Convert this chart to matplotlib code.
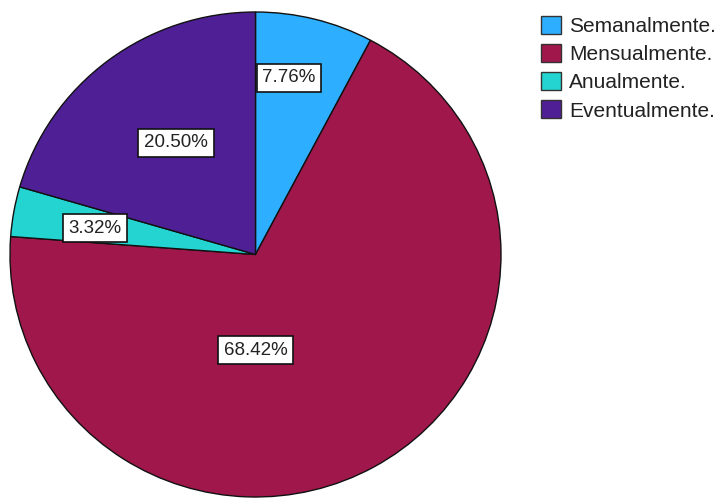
import matplotlib
matplotlib.use("Agg")
import matplotlib.pyplot as plt
from matplotlib.patches import Patch

plt.rcParams["font.family"] = ["Liberation Sans", "DejaVu Sans"]

# --- Daten ---
categories = ["Semanalmente.", "Mensualmente.", "Anualmente.", "Eventualmente."]
percents = [7.76, 68.42, 3.32, 20.50]
colors = ["#2eaeff", "#a0174b", "#24d4d0", "#4f1f96"]

# label positions inside the pie (relative to radius 1)
label_pos = [(0.136, 0.728), (0.0, -0.394), (-0.654, 0.109), (-0.324, 0.460)]

W, H = 724, 498
fig = plt.figure(figsize=(W / 100, H / 100), dpi=100)

# pie occupies x 10..501, y 12..497 (pixels, from top)
ax = fig.add_axes([10 / W, (H - 497) / H, 491 / W, 485 / H])
wedges, _ = ax.pie(
    percents,
    colors=colors,
    startangle=90,
    counterclock=False,
    radius=1.0,
    wedgeprops=dict(edgecolor="#111111", linewidth=1.0),
)
ax.set_aspect("auto")
ax.set_xlim(-1, 1)
ax.set_ylim(-1, 1)
ax.axis("off")

for p, (x, y) in zip(percents, label_pos):
    ax.text(
        x, y, f"{p:.2f}%",
        ha="center", va="center",
        fontsize=13.5, color="#222222",
        bbox=dict(boxstyle="square,pad=0.3", facecolor="white",
                  edgecolor="#111111", linewidth=1.2),
    )

handles = [Patch(facecolor=c, edgecolor="#333333", linewidth=1.0) for c in colors]
fig.legend(
    handles, categories,
    loc="upper left",
    bbox_to_anchor=(541 / W, 1 - 16 / H),
    frameon=False,
    fontsize=15,
    handlelength=0.96,
    handleheight=0.96,
    handletextpad=0.4,
    labelspacing=0.38,
    borderpad=0,
    borderaxespad=0,
    labelcolor="#222222",
)

fig.savefig("out.png", dpi=100, facecolor="white")
